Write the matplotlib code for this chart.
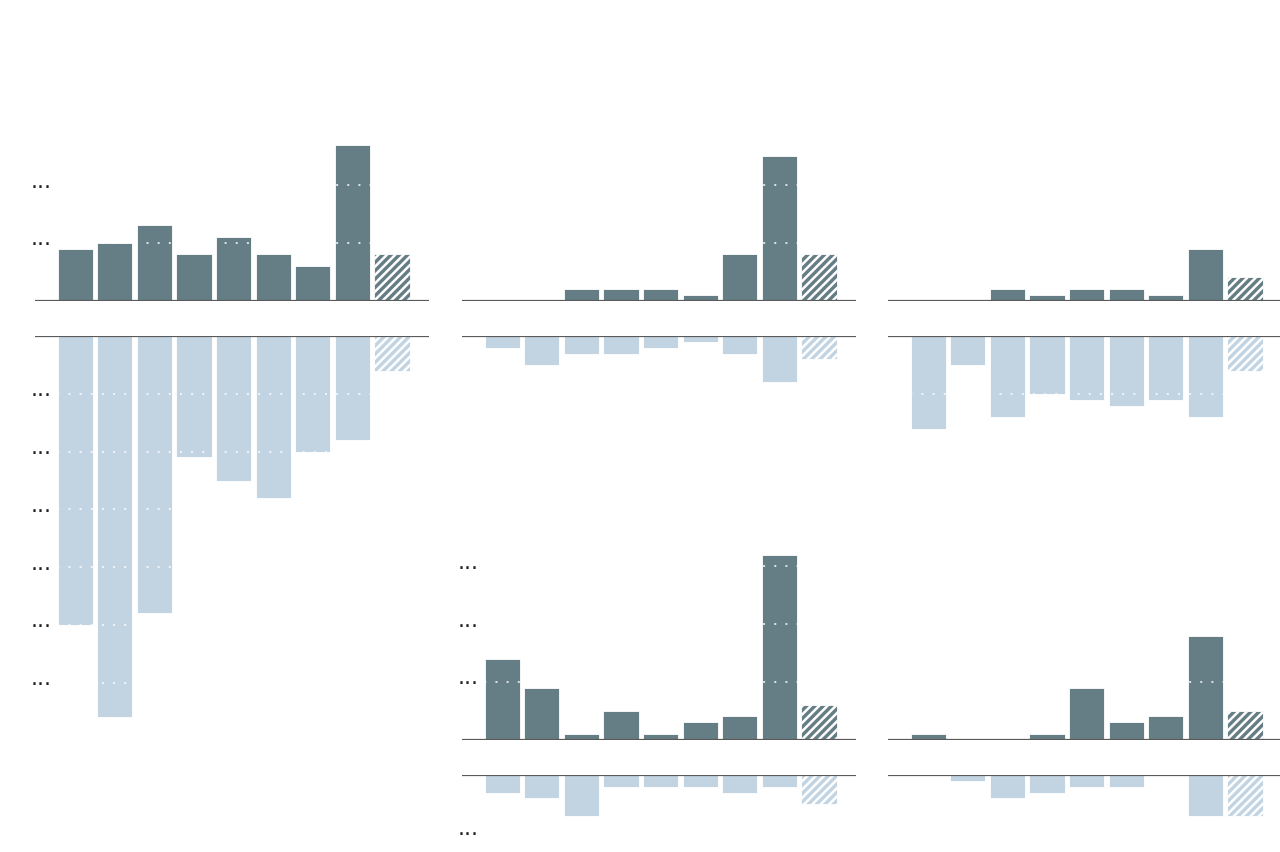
import matplotlib
matplotlib.use("Agg")
import matplotlib.pyplot as plt
import matplotlib.transforms as mtransforms

# values per panel: top = upper (dark) bars, bottom = lower (light) bars, last bar is hatched
p1_top = [9, 10, 13, 8, 11, 8, 6, 27, 8]
p1_bot = [50, 66, 48, 21, 25, 28, 20, 18, 6]
p2_top = [0, 0, 2, 2, 2, 1, 8, 25, 8]
p2_bot = [2, 5, 3, 3, 2, 1, 3, 8, 4]
p3_top = [0, 0, 2, 1, 2, 2, 1, 9, 4]
p3_bot = [16, 5, 14, 10, 11, 12, 11, 14, 6]
p4_top = [14, 9, 1, 5, 1, 3, 4, 32, 6]
p4_bot = [3, 4, 7, 2, 2, 2, 3, 2, 5]
p5_top = [1, 0, 0, 1, 9, 3, 4, 18, 5]
p5_bot = [0, 1, 4, 3, 2, 2, 0, 7, 7]
tick_label = "..."

DARK = "#657e85"
LIGHT = "#c2d4e2"
AXLINE = "#5a5a5a"

W, H = 1280, 853
PX = 5.77  # pixels per unit
plt.rcParams["hatch.linewidth"] = 1.8

fig = plt.figure(figsize=(12.8, 8.53), dpi=100)


def make_ax(x0, y_base, lo, hi, direction):
    width = 394
    h = (hi - lo) * PX
    if direction == "up":
        top = y_base - h
    else:
        top = y_base
    ax = fig.add_axes([x0 / W, 1 - (top + h) / H, width / W, h / H])
    ax.set_xlim(-1.015, -1.015 + width / 39.6)
    ax.set_ylim(lo, hi)
    for s in ax.spines.values():
        s.set_visible(False)
    ax.set_xticks([])
    ax.set_yticks([])
    ax.patch.set_alpha(0)
    return ax


def draw(ax, vals, color, sign, labels):
    x = range(len(vals))
    v = [sign * a for a in vals]
    bars = ax.bar(x, v, width=0.885, color=color, edgecolor="white", linewidth=0.6, zorder=2)
    bars[-1].set_hatch("////")
    lo, hi = ax.get_ylim()
    g = 10
    ticks = []
    while g < max(abs(lo), abs(hi)):
        ticks.append(sign * g)
        g += 10
    for t in ticks:
        ax.axhline(t, color="white", lw=1.1, linestyle=(0, (1.3, 6)), zorder=3)
        if labels:
            tr = mtransforms.offset_copy(ax.get_yaxis_transform(), fig=fig, x=-4, y=-1.5, units="dots")
            ax.text(0, t, tick_label, transform=tr, ha="left", va="baseline",
                    fontsize=16, color="#222222")
    ax.axhline(0, color=AXLINE, lw=1.6, zorder=4)


panels = [
    (35, 301.5, 337.3, 28, 67, p1_top, p1_bot, True),
    (462, 301.5, 337.3, 28, 17, p2_top, p2_bot, False),
    (888, 301.5, 337.3, 28, 17, p3_top, p3_bot, False),
    (462, 740.5, 776.3, 33, 11, p4_top, p4_bot, True),
    (888, 740.5, 776.3, 33, 11, p5_top, p5_bot, False),
]

for x0, yt, yb, top_max, bot_max, tv, bv, lab in panels:
    ax_t = make_ax(x0, yt, 0, top_max, "up")
    draw(ax_t, tv, DARK, 1, lab)
    ax_b = make_ax(x0, yb, -bot_max, 0, "down")
    draw(ax_b, bv, LIGHT, -1, lab)

fig.savefig("out.png", dpi=100)
